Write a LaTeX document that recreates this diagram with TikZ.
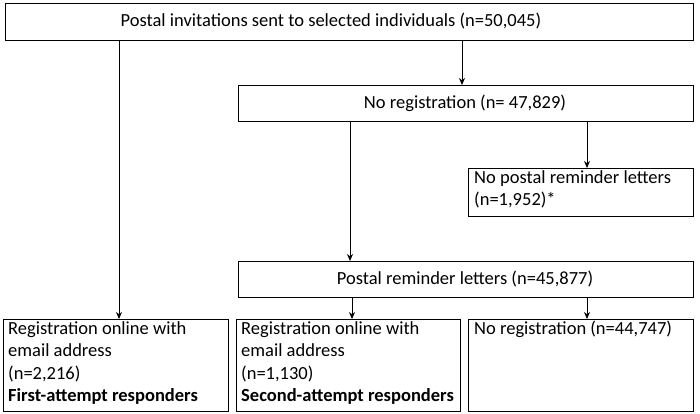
\documentclass[tikz,border=0pt]{standalone}
\usepackage{fontspec}
\setmainfont{Carlito}
\usetikzlibrary{arrows.meta}
\begin{document}
\begin{tikzpicture}[x=1pt,y=1pt,
  every node/.style={font=\fontsize{18.5}{22.5}\selectfont},
  box/.style={draw,line width=0.8pt,inner sep=0pt},
  txt/.style={align=left,anchor=north west,inner sep=0pt},
  arr/.style={-{Stealth[length=7pt,width=6pt]},line width=0.7pt}]
\useasboundingbox (0,0) rectangle (700,-414);
\draw[box] (5,-3) rectangle (693,-40);
\node (t) at (331,-21.5) {Postal invitations sent to selected individuals (n=50,045)};
\draw[box] (238,-85) rectangle (693,-121);
\node (nr) at (465,-103) {No registration (n= 47,829)};
\draw[box] (468,-168) rectangle (693,-216);
\node[txt] (np) at (474,-170) {No postal reminder letters\\(n=1,952)*};
\draw[box] (238,-261) rectangle (693,-297);
\node (pr) at (465,-279) {Postal reminder letters (n=45,877)};
\draw[box] (3,-319) rectangle (228,-411);
\node[txt] (b1) at (8,-321) {Registration online with\\email address\\(n=2,216)\\\textbf{First-attempt responders}};
\draw[box] (236,-319) rectangle (460,-411);
\node[txt] (b2) at (241,-321) {Registration online with\\email address\\(n=1,130)\\\textbf{Second-attempt responders}};
\draw[box] (468,-319) rectangle (693,-411);
\node[txt] (b3) at (474,-321) {No registration (n=44,747)};
\coordinate (a1) at (119,-40); \coordinate (a1e) at (119,-319);
\coordinate (a2) at (462,-40); \coordinate (a2e) at (462,-85);
\coordinate (a3) at (350,-121); \coordinate (a3e) at (350,-261);
\coordinate (a4) at (587,-121); \coordinate (a4e) at (587,-168);
\coordinate (a5) at (352,-297); \coordinate (a5e) at (352,-319);
\coordinate (a6) at (587,-297); \coordinate (a6e) at (587,-319);
\foreach \s/\e in {a1/a1e,a2/a2e,a3/a3e,a4/a4e,a5/a5e,a6/a6e} \draw[arr] (\s) -- (\e);
\end{tikzpicture}
\end{document}
